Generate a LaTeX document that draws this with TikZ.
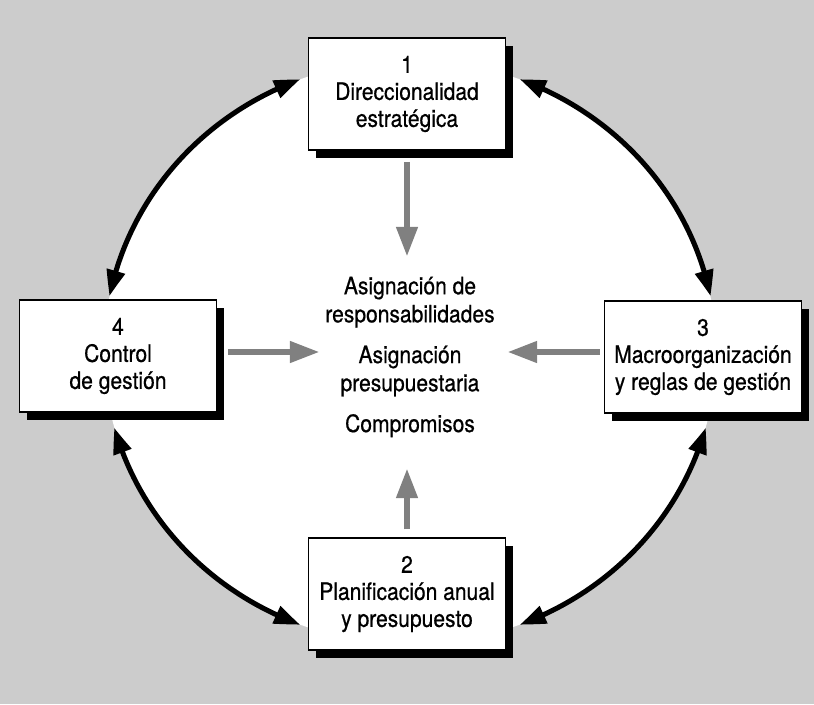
\documentclass[tikz,border=0pt]{standalone}
\usepackage{fontspec}
\setmainfont[FakeStretch=0.88,FakeBold=0.6]{TeX Gyre Heros}
\usetikzlibrary{arrows.meta,bending,shadows,calc}
\definecolor{fondo}{gray}{0.80}
\definecolor{flechagris}{gray}{0.50}
\begin{document}
\begin{tikzpicture}[x=0.025cm,y=-0.025cm,
  texto/.style={font=\fontsize{17}{19.2}\selectfont, align=center},
  caja/.style={texto, draw=black, line width=0.8pt, fill=white,
    minimum width=4.925cm, minimum height=2.8cm, inner sep=0pt,
    drop shadow={shadow xshift=0.18cm, shadow yshift=-0.2cm, fill=black, opacity=1}},
  ciclo/.style={line width=3.6pt,
    {Triangle[length=0.65cm,width=0.45cm,bend]}-{Triangle[length=0.65cm,width=0.45cm,bend]}},
  flujo/.style={draw=flechagris, line width=0.17cm,
    -{Triangle[length=0.75cm,width=0.5cm,fill=flechagris]}},
  ]
% background and white central area
\fill[fondo] (0,0) rectangle (814,704);
\useasboundingbox (0,0) rectangle (814,704);
\coordinate (C) at (410,352);
\fill[white] (C) ellipse [x radius=306, y radius=292];

% end points of the cycle arcs
\path (C) ++(191:306 and 292) coordinate (a1);
\path (C) ++(291:306 and 292) coordinate (a2);
\path (C) ++(15:306 and 292) coordinate (a3);
\path (C) ++(111:306 and 292) coordinate (a4);

% cycle arcs
\draw[ciclo] (a1) arc[start angle=191, end angle=249, x radius=306, y radius=292];
\draw[ciclo] (a2) arc[start angle=291, end angle=349, x radius=306, y radius=292];
\draw[ciclo] (a3) arc[start angle=15, end angle=69, x radius=306, y radius=292];
\draw[ciclo] (a4) arc[start angle=111, end angle=165, x radius=306, y radius=292];

% boxes
\node[caja] (b1) at (407,94) {1\\Direccionalidad\\estratégica};
\node[caja] (b2) at (407,594) {2\\Planificación anual\\y presupuesto};
\node[caja] (b3) at (703,357) {3\\Macroorganización\\y reglas de gestión};
\node[caja] (b4) at (118,356) {4\\Control\\de gestión};

% central text
\node[texto, font=\fontsize{17}{20}\selectfont] (centro) at (410,357)
  {Asignación de\\responsabilidades\\[9pt]Asignación\\presupuestaria\\[9pt]Compromisos};

% flows towards the centre
\coordinate (pN) at (407,257);
\coordinate (pS) at (407,468);
\coordinate (pW) at (320,352);
\coordinate (pE) at (507,352);
\draw[flujo, shorten <=0.28cm] (b1.south) -- (pN);
\draw[flujo, shorten <=0.2cm] (b2.north) -- (pS);
\draw[flujo, shorten <=0.28cm] (b4.east |- pW) -- (pW);
\draw[flujo, shorten <=0.1cm] (b3.west |- pE) -- (pE);
\end{tikzpicture}
\end{document}
